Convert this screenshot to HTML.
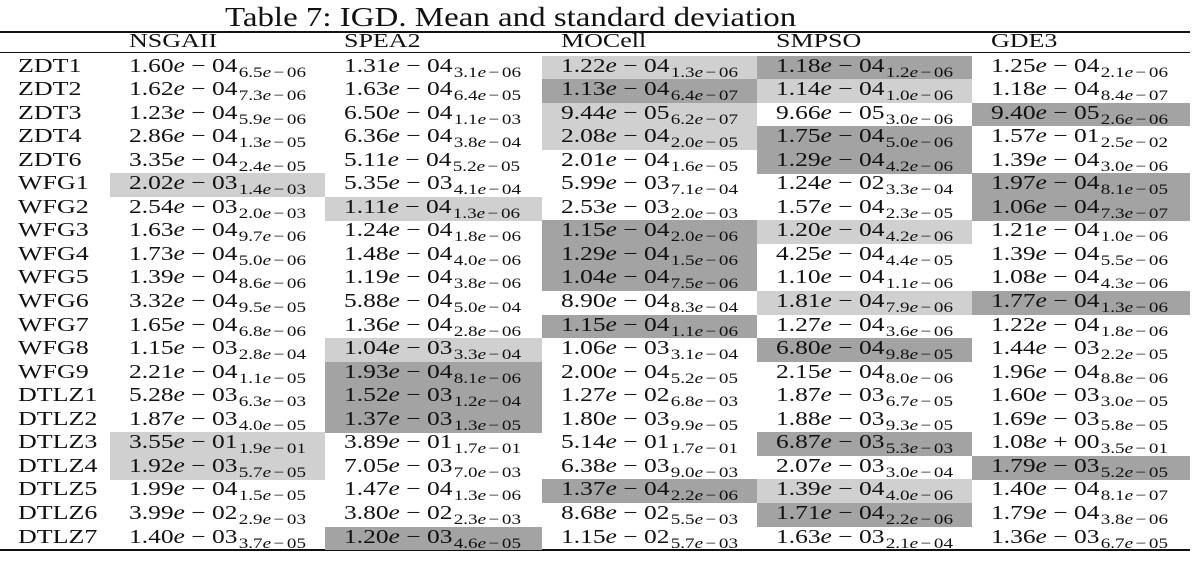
<!DOCTYPE html>
<html><head><meta charset="utf-8">
<style>
body{margin:0;width:1195px;height:562px;background:#fff;position:relative;overflow:hidden;font-family:"Liberation Serif",serif;color:#111}
.t{position:absolute;white-space:nowrap;transform-origin:0 0}
.cell{position:absolute}
.v{position:absolute;white-space:nowrap;font-size:20px;line-height:23px;transform-origin:0 0}
.lab{transform:scaleX(1.3)}
.v i{font-style:italic}
.v sub{font-size:15px;vertical-align:-5px;line-height:0;margin-left:1px}
.op{margin:0 5px}
.sop{margin:0 2px}
.hl{position:absolute;height:1.6px;background:#111;left:0;width:1190px}
</style></head><body>
<div class="t" style="left:225px;top:2px;font-size:27px;line-height:30px;transform:scaleX(1.22)">Table 7: IGD. Mean and standard deviation</div>
<div class="hl" style="top:31px"></div>
<div class="hl" style="top:52px;height:1.2px"></div>
<div class="hl" style="top:549px"></div>
<div id="tbl"></div>
<script>
const algorithms=["NSGAII","SPEA2","MOCell","SMPSO","GDE3"];
const problems=["ZDT1","ZDT2","ZDT3","ZDT4","ZDT6","WFG1","WFG2","WFG3","WFG4","WFG5","WFG6","WFG7","WFG8","WFG9","DTLZ1","DTLZ2","DTLZ3","DTLZ4","DTLZ5","DTLZ6","DTLZ7"];
const means=[
["1.60e-04","1.31e-04","1.22e-04","1.18e-04","1.25e-04"],
["1.62e-04","1.63e-04","1.13e-04","1.14e-04","1.18e-04"],
["1.23e-04","6.50e-04","9.44e-05","9.66e-05","9.40e-05"],
["2.86e-04","6.36e-04","2.08e-04","1.75e-04","1.57e-01"],
["3.35e-04","5.11e-04","2.01e-04","1.29e-04","1.39e-04"],
["2.02e-03","5.35e-03","5.99e-03","1.24e-02","1.97e-04"],
["2.54e-03","1.11e-04","2.53e-03","1.57e-04","1.06e-04"],
["1.63e-04","1.24e-04","1.15e-04","1.20e-04","1.21e-04"],
["1.73e-04","1.48e-04","1.29e-04","4.25e-04","1.39e-04"],
["1.39e-04","1.19e-04","1.04e-04","1.10e-04","1.08e-04"],
["3.32e-04","5.88e-04","8.90e-04","1.81e-04","1.77e-04"],
["1.65e-04","1.36e-04","1.15e-04","1.27e-04","1.22e-04"],
["1.15e-03","1.04e-03","1.06e-03","6.80e-04","1.44e-03"],
["2.21e-04","1.93e-04","2.00e-04","2.15e-04","1.96e-04"],
["5.28e-03","1.52e-03","1.27e-02","1.87e-03","1.60e-03"],
["1.87e-03","1.37e-03","1.80e-03","1.88e-03","1.69e-03"],
["3.55e-01","3.89e-01","5.14e-01","6.87e-03","1.08e+00"],
["1.92e-03","7.05e-03","6.38e-03","2.07e-03","1.79e-03"],
["1.99e-04","1.47e-04","1.37e-04","1.39e-04","1.40e-04"],
["3.99e-02","3.80e-02","8.68e-02","1.71e-04","1.79e-04"],
["1.40e-03","1.20e-03","1.15e-02","1.63e-03","1.36e-03"]];
const stds=[
["6.5e-06","3.1e-06","1.3e-06","1.2e-06","2.1e-06"],
["7.3e-06","6.4e-05","6.4e-07","1.0e-06","8.4e-07"],
["5.9e-06","1.1e-03","6.2e-07","3.0e-06","2.6e-06"],
["1.3e-05","3.8e-04","2.0e-05","5.0e-06","2.5e-02"],
["2.4e-05","5.2e-05","1.6e-05","4.2e-06","3.0e-06"],
["1.4e-03","4.1e-04","7.1e-04","3.3e-04","8.1e-05"],
["2.0e-03","1.3e-06","2.0e-03","2.3e-05","7.3e-07"],
["9.7e-06","1.8e-06","2.0e-06","4.2e-06","1.0e-06"],
["5.0e-06","4.0e-06","1.5e-06","4.4e-05","5.5e-06"],
["8.6e-06","3.8e-06","7.5e-06","1.1e-06","4.3e-06"],
["9.5e-05","5.0e-04","8.3e-04","7.9e-06","1.3e-06"],
["6.8e-06","2.8e-06","1.1e-06","3.6e-06","1.8e-06"],
["2.8e-04","3.3e-04","3.1e-04","9.8e-05","2.2e-05"],
["1.1e-05","8.1e-06","5.2e-05","8.0e-06","8.8e-06"],
["6.3e-03","1.2e-04","6.8e-03","6.7e-05","3.0e-05"],
["4.0e-05","1.3e-05","9.9e-05","9.3e-05","5.8e-05"],
["1.9e-01","1.7e-01","1.7e-01","5.3e-03","3.5e-01"],
["5.7e-05","7.0e-03","9.0e-03","3.0e-04","5.2e-05"],
["1.5e-05","1.3e-06","2.2e-06","4.0e-06","8.1e-07"],
["2.9e-03","2.3e-03","5.5e-03","2.2e-06","3.8e-06"],
["3.7e-05","4.6e-05","5.7e-03","2.1e-04","6.7e-05"]];
// 0 none, 1 light (second best), 2 dark (best)
const ranks=[
[0,0,1,2,0],[0,0,2,1,0],[0,0,1,0,2],[0,0,1,2,0],[0,0,0,2,0],
[1,0,0,0,2],[0,1,0,0,2],[0,0,2,1,0],[0,0,2,0,0],[0,0,2,0,0],
[0,0,0,1,2],[0,0,2,0,0],[0,1,0,2,0],[0,2,0,0,0],[0,2,0,0,0],
[0,2,0,0,0],[1,0,0,2,0],[1,0,0,0,2],[0,0,2,1,0],[0,0,0,2,0],[0,2,0,0,0]];
const colLeft=[110,325,542,757,972], colW=[215,217,215,215,218];
const rowTop=55.5, rowH=23.55;
const tbl=document.getElementById('tbl');
function fmt(s){const m=s.match(/^([\d.]+)e([+-])(\d+)$/);return m[1]+'<i>e</i><span class="op">'+(m[2]=='-'?'\u2212':'+')+'</span>'+m[3];}
function fmtS(s){const m=s.match(/^([\d.]+)e([+-])(\d+)$/);return m[1]+'<i>e</i><span class="sop">'+(m[2]=='-'?'\u2212':'+')+'</span>'+m[3];}
algorithms.forEach((a,j)=>{
  const h=document.createElement('div');
  h.className='v lab';
  
  
  h.style.left=(colLeft[j]+19)+'px';h.style.top='30px';
  h.textContent=a;tbl.appendChild(h);
});
const vals=[];
problems.forEach((p,i)=>{
  const top=rowTop+i*rowH;
  const l=document.createElement('div');
  l.className='v lab';
  
  
  l.style.left='18px';l.style.top=(top-1)+'px';l.textContent=p;tbl.appendChild(l);
  algorithms.forEach((a,j)=>{
    const r=ranks[i][j];
    if(r){const c=document.createElement('div');
      c.className='cell';
      
      
      c.style.left=colLeft[j]+'px';c.style.top=top+'px';c.style.width=colW[j]+'px';c.style.height=(rowH+0.3)+'px';
      c.style.background=r==2?'#a3a3a3':'#d0d0d0';tbl.appendChild(c);}
    const v=document.createElement('div');
    v.className='v';
    
    
    v.style.left=(colLeft[j]+19)+'px';v.style.top=(top-1)+'px';
    v.innerHTML=fmt(means[i][j])+'<sub>'+fmtS(stds[i][j])+'</sub>';
    tbl.appendChild(v);vals.push(v);
  });
});
const s=177/vals[0].getBoundingClientRect().width;
vals.forEach(v=>{v.style.transform='scaleX('+s.toFixed(3)+')';});
</script>
</body></html>
